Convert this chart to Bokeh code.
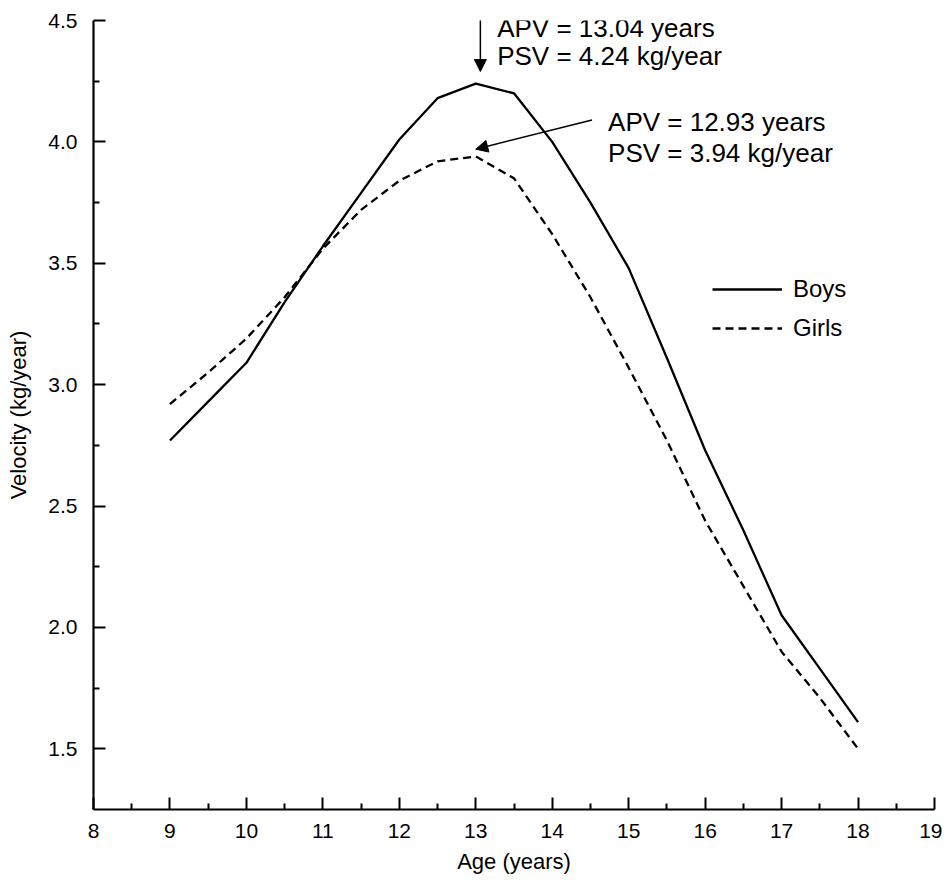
from bokeh.plotting import figure
from bokeh.models import (FixedTicker, PrintfTickFormatter, Legend, LegendItem,
                          Label, Arrow, NormalHead, Range1d)
from bokeh.embed import file_html
from bokeh.resources import INLINE

# ---- data ----
ages = [9, 9.5, 10, 10.5, 11, 11.5, 12, 12.5, 13, 13.5, 14, 14.5, 15, 15.5, 16, 16.5, 17, 17.5, 18]
boys = [2.77, 2.93, 3.09, 3.34, 3.57, 3.79, 4.01, 4.18, 4.24, 4.20, 4.00, 3.75, 3.48, 3.11, 2.73, 2.40, 2.05, 1.83, 1.61]
girls = [2.92, 3.05, 3.19, 3.36, 3.56, 3.72, 3.84, 3.92, 3.94, 3.85, 3.62, 3.36, 3.07, 2.77, 2.44, 2.17, 1.90, 1.71, 1.50]

x_major = list(range(8, 20))
x_minor = [8.5 + i for i in range(11)]
y_major = [1.5, 2.0, 2.5, 3.0, 3.5, 4.0, 4.5]
y_minor = [1.75, 2.25, 2.75, 3.25, 3.75, 4.25]

apv_boys, psv_boys = 13.04, 4.24
apv_girls, psv_girls = 12.93, 3.94

FONT = "Liberation Sans"

p = figure(width=942, height=882, output_backend="svg", toolbar_location=None,
           x_range=Range1d(8, 19), y_range=Range1d(1.25, 4.5),
           min_border_left=93, min_border_right=8, min_border_top=20, min_border_bottom=73)
p.outline_line_color = None
p.xgrid.visible = False
p.ygrid.visible = False
p.background_fill_color = "white"

r_boys = p.line(ages, boys, line_color="black", line_width=2.3)
r_girls = p.line(ages, girls, line_color="black", line_width=2.3, line_dash="8 5")

for ax in (p.xaxis[0], p.yaxis[0]):
    ax.axis_line_width = 2.2
    ax.axis_line_color = "black"
    ax.major_tick_line_width = 2
    ax.minor_tick_line_width = 2
    ax.major_tick_line_color = "black"
    ax.minor_tick_line_color = "black"
    ax.major_tick_in = 12
    ax.major_tick_out = 0
    ax.minor_tick_in = 6
    ax.minor_tick_out = 0
    ax.major_label_text_font = FONT
    ax.major_label_text_font_size = "21px"
    ax.major_label_text_color = "black"
    ax.axis_label_text_font = FONT
    ax.axis_label_text_font_size = "22px"
    ax.axis_label_text_font_style = "normal"
    ax.axis_label_text_color = "black"

p.xaxis.ticker = FixedTicker(ticks=x_major, minor_ticks=x_minor)
p.yaxis.ticker = FixedTicker(ticks=y_major, minor_ticks=y_minor)
p.yaxis.formatter = PrintfTickFormatter(format="%.1f")
p.xaxis.axis_label = "Age (years)"
p.yaxis.axis_label = "Velocity (kg/year)"
p.xaxis.major_label_standoff = 14
p.xaxis.axis_label_standoff = 8
p.yaxis.major_label_standoff = 16
p.yaxis.axis_label_standoff = 14

legend = Legend(items=[LegendItem(label="Boys", renderers=[r_boys]),
                       LegendItem(label="Girls", renderers=[r_girls])],
                location=(619, 467), padding=0, margin=0, spacing=11,
                glyph_width=70, glyph_height=28, label_height=28, label_standoff=11,
                border_line_color=None, background_fill_alpha=0,
                label_text_font=FONT, label_text_font_size="24px", label_text_color="black")
p.add_layout(legend)

# annotations
p.add_layout(Arrow(end=NormalHead(size=12, fill_color="black", line_color="black"),
                   x_start=13.06, y_start=4.52, x_end=13.06, y_end=4.29,
                   line_color="black", line_width=1.5))
p.add_layout(Arrow(end=NormalHead(size=12, fill_color="black", line_color="black"),
                   x_start=14.52, y_start=4.09, x_end=13.0, y_end=3.97,
                   line_color="black", line_width=1.5))

ann = [
    (13.28, 4.471, f"APV = {apv_boys:.2f} years"),
    (13.28, 4.352, f"PSV = {psv_boys:.2f} kg/year"),
    (14.73, 4.08, f"APV = {apv_girls:.2f} years"),
    (14.73, 3.953, f"PSV = {psv_girls:.2f} kg/year"),
]
for x, y, t in ann:
    p.add_layout(Label(x=x, y=y, text=t, text_font=FONT, text_font_size="26px",
                       text_baseline="middle", text_align="left", text_color="black"))

open("out.html", "w").write(file_html(p, INLINE))
